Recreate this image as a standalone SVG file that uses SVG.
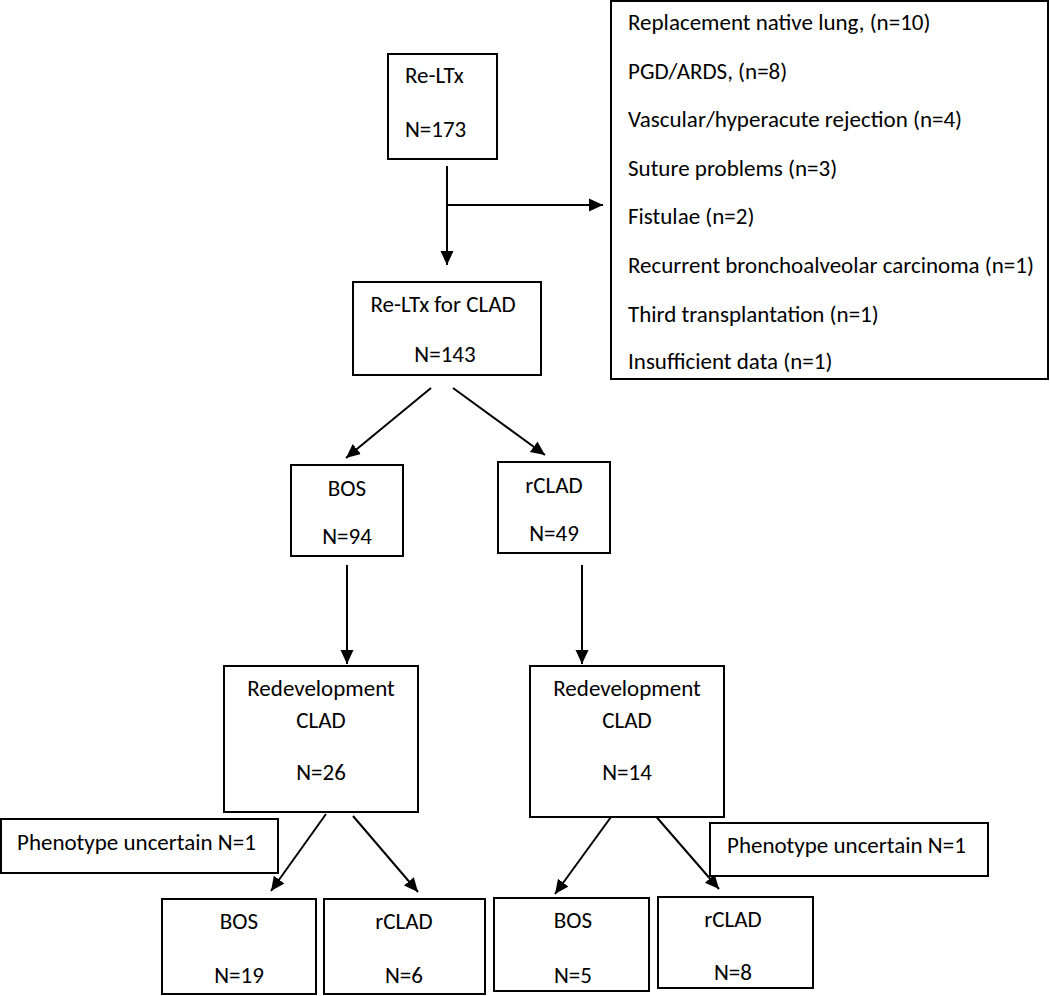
<svg xmlns="http://www.w3.org/2000/svg" width="1050" height="996" viewBox="0 0 1050 996">
<style>
.box{fill:#fff;stroke:#000;stroke-width:2}
.t{font-family:Carlito,"Liberation Sans",sans-serif;font-size:23px;fill:#000}
.m{text-anchor:middle}
.c{stroke:#000;stroke-width:2;fill:none}
</style>
<defs>
<marker id="ah" markerUnits="userSpaceOnUse" markerWidth="16" markerHeight="16" viewBox="0 0 16 16" refX="14" refY="8" orient="auto">
<path d="M0,1.5 L14,8 L0,14.5 z" fill="#000"/>
</marker>
</defs>
<rect width="1050" height="996" fill="#fff"/>
<g id="connectors">
<line class="c" x1="447" y1="166" x2="447" y2="265" marker-end="url(#ah)"/>
<line class="c" x1="447" y1="205" x2="603" y2="205" marker-end="url(#ah)"/>
<line class="c" x1="431" y1="388" x2="346" y2="458" marker-end="url(#ah)"/>
<line class="c" x1="453" y1="388" x2="545" y2="455" marker-end="url(#ah)"/>
<line class="c" x1="347" y1="565" x2="347" y2="664" marker-end="url(#ah)"/>
<line class="c" x1="582" y1="565" x2="582" y2="664" marker-end="url(#ah)"/>
<line class="c" x1="326" y1="814" x2="271" y2="891" marker-end="url(#ah)"/>
<line class="c" x1="353" y1="816" x2="418" y2="892" marker-end="url(#ah)"/>
<line class="c" x1="611" y1="817" x2="555" y2="894" marker-end="url(#ah)"/>
<line class="c" x1="653" y1="813" x2="719" y2="889" marker-end="url(#ah)"/>
</g>
<g id="reltx">
<rect class="box" x="388" y="54" width="109" height="105"/>
<text class="t" x="405" y="83">Re-LTx</text>
<text class="t" x="405" y="137">N=173</text>
</g>
<g id="excluded">
<rect class="box" x="611" y="1" width="437" height="378"/>
<text class="t" x="628" y="30">Replacement native lung, (n=10)</text>
<text class="t" x="628" y="79">PGD/ARDS, (n=8)</text>
<text class="t" x="628" y="127">Vascular/hyperacute rejection (n=4)</text>
<text class="t" x="628" y="176">Suture problems (n=3)</text>
<text class="t" x="628" y="224">Fistulae (n=2)</text>
<text class="t" x="628" y="273">Recurrent bronchoalveolar carcinoma (n=1)</text>
<text class="t" x="628" y="322">Third transplantation (n=1)</text>
<text class="t" x="628" y="369">Insufficient data (n=1)</text>
</g>
<g id="clad">
<rect class="box" x="353" y="282" width="188" height="93"/>
<text class="t m" x="443" y="312">Re-LTx for CLAD</text>
<text class="t m" x="445" y="362">N=143</text>
</g>
<g id="bos1">
<rect class="box" x="291" y="465" width="112" height="91"/>
<text class="t m" x="347" y="496">BOS</text>
<text class="t m" x="347" y="544">N=94</text>
</g>
<g id="rclad1">
<rect class="box" x="498" y="462" width="112" height="91"/>
<text class="t m" x="554" y="493">rCLAD</text>
<text class="t m" x="554" y="541">N=49</text>
</g>
<g id="redev1">
<rect class="box" x="224" y="666" width="194" height="146"/>
<text class="t m" x="321" y="696">Redevelopment</text>
<text class="t m" x="321" y="728">CLAD</text>
<text class="t m" x="321" y="780">N=26</text>
</g>
<g id="redev2">
<rect class="box" x="530" y="666" width="194" height="151"/>
<text class="t m" x="627" y="696">Redevelopment</text>
<text class="t m" x="627" y="728">CLAD</text>
<text class="t m" x="627" y="780">N=14</text>
</g>
<g id="unc1">
<rect class="box" x="1" y="819" width="277" height="54"/>
<text class="t" x="17" y="850">Phenotype uncertain N=1</text>
</g>
<g id="unc2">
<rect class="box" x="710" y="823" width="278" height="53"/>
<text class="t" x="727" y="853">Phenotype uncertain N=1</text>
</g>
<g id="bos2">
<rect class="box" x="162" y="899" width="154" height="95"/>
<text class="t m" x="239" y="929">BOS</text>
<text class="t m" x="239" y="983">N=19</text>
</g>
<g id="rclad2">
<rect class="box" x="324" y="899" width="161" height="95"/>
<text class="t m" x="404" y="929">rCLAD</text>
<text class="t m" x="404" y="983">N=6</text>
</g>
<g id="bos3">
<rect class="box" x="494" y="898" width="155" height="93"/>
<text class="t m" x="573" y="928">BOS</text>
<text class="t m" x="573" y="983">N=5</text>
</g>
<g id="rclad3">
<rect class="box" x="658" y="897" width="155" height="91"/>
<text class="t m" x="733" y="927">rCLAD</text>
<text class="t m" x="733" y="980">N=8</text>
</g>
</svg>
